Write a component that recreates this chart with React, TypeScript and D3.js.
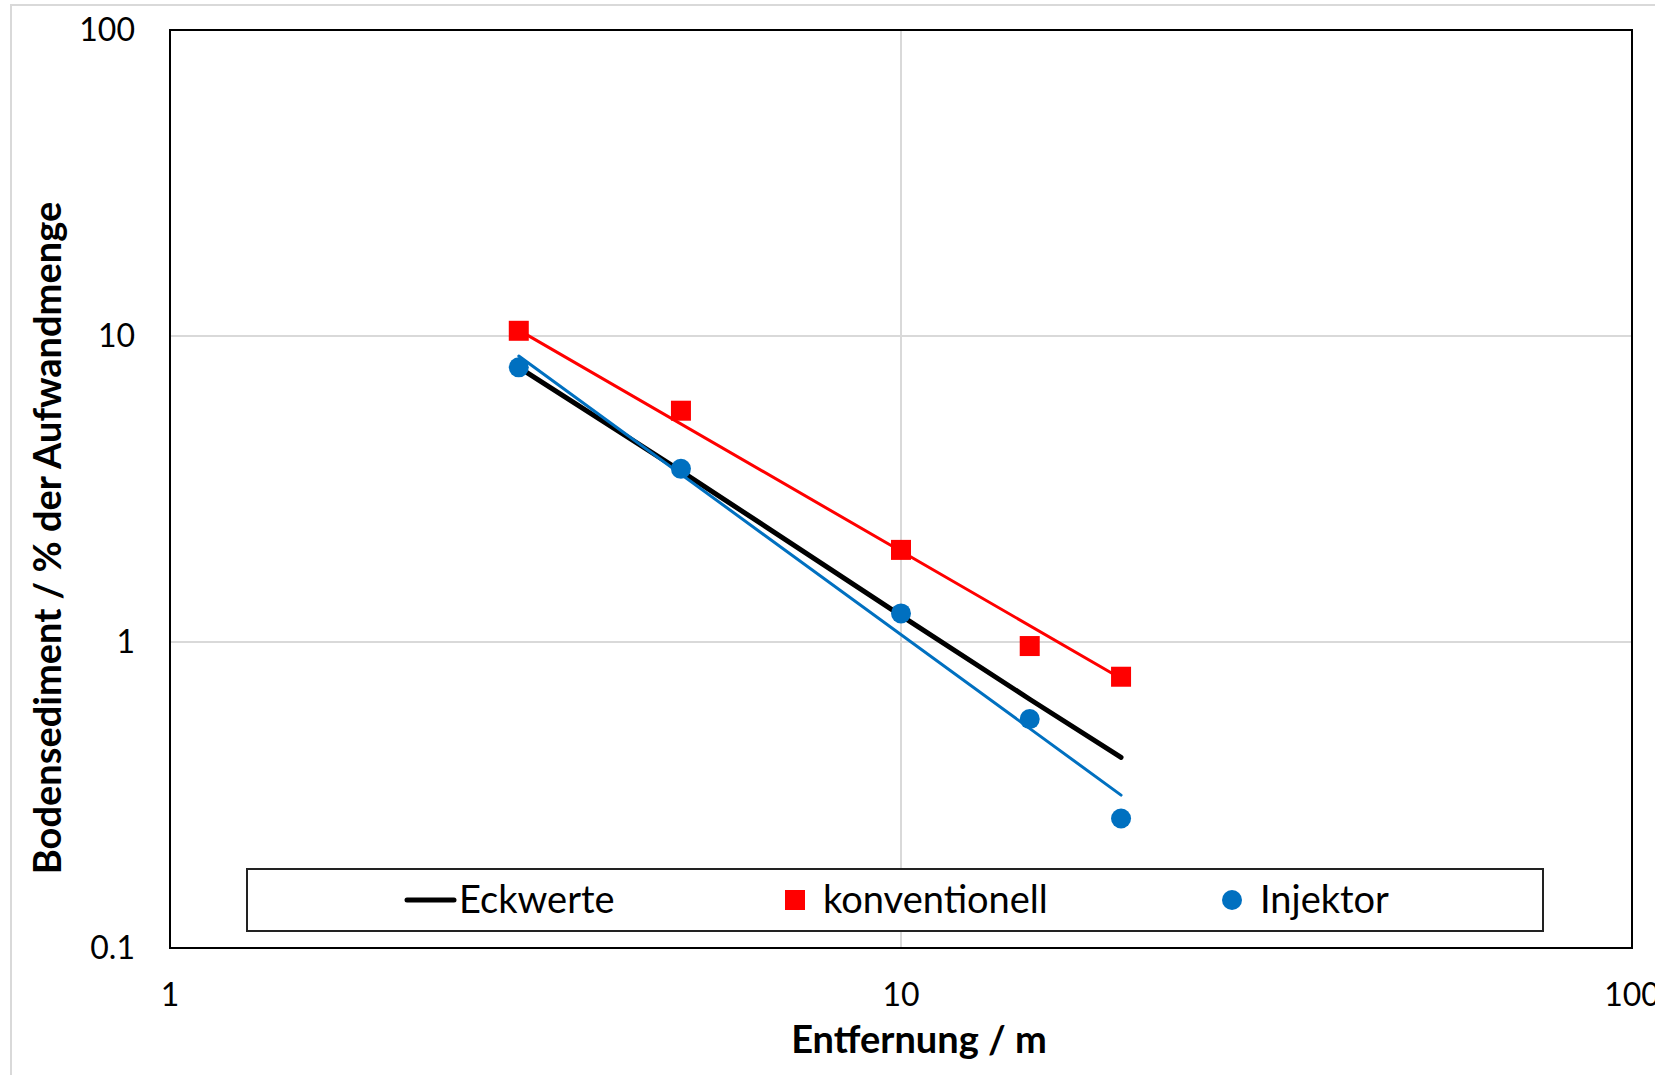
import React, { useRef, useEffect } from 'react';
import * as d3 from 'd3';

// distances (m) and ground sediment (% of application rate)
const distances = [3, 5, 10, 15, 20];
const eckwerte = [7.9, 3.62, 1.22, 0.65, 0.42];
const konventionell = [10.4, 5.7, 2.0, 0.97, 0.77];
const injektor = [7.9, 3.68, 1.24, 0.56, 0.265];

// power trend lines, end points
const trendX = [3, 20];
const konventionellTrend = [10.45, 0.76];
const injektorTrend = [8.6, 0.316];

const xTicks = [1, 10, 100];
const yTicks = [0.1, 1, 10, 100];

const legendItems = [
    { name: 'Eckwerte', kind: 'line', color: '#000000' },
    { name: 'konventionell', kind: 'square', color: '#ff0000' },
    { name: 'Injektor', kind: 'circle', color: '#0070c0' },
];

const FONT = 'Lato, "Open Sans", sans-serif';

const App = () => {

    const svgRef = useRef<SVGSVGElement | null>(null);

    useEffect(() => {

        const svgWidth = 1655;
        const svgHeight = 1075;

        const margin = { top: 30, right: 23, bottom: 127, left: 170 };
        const width = svgWidth - margin.left - margin.right;
        const height = svgHeight - margin.top - margin.bottom;

        const svg = d3.select(svgRef.current)
            .attr('width', svgWidth)
            .attr('height', svgHeight);
        svg.selectAll('*').remove();

        // outer chart frame
        svg.append('rect')
            .attr('x', 11).attr('y', 5)
            .attr('width', svgWidth + 20).attr('height', svgHeight + 20)
            .attr('fill', '#fff')
            .attr('stroke', '#d9d9d9')
            .attr('stroke-width', 2);

        const g = svg.append('g').attr('transform', `translate(${margin.left},${margin.top})`);

        const xScale = d3.scaleLog().domain([1, 100]).range([0, width]);
        const yScale = d3.scaleLog().domain([0.1, 100]).range([height, 0]);

        // grid
        g.selectAll('.hgrid')
            .data(yTicks.filter((d) => d > 0.1 && d < 100))
            .enter()
            .append('line')
            .attr('x1', 0).attr('x2', width)
            .attr('y1', (d) => yScale(d)).attr('y2', (d) => yScale(d))
            .attr('stroke', '#d9d9d9')
            .attr('stroke-width', 2);

        g.selectAll('.vgrid')
            .data(xTicks.filter((d) => d > 1 && d < 100))
            .enter()
            .append('line')
            .attr('y1', 0).attr('y2', height)
            .attr('x1', (d) => xScale(d)).attr('x2', (d) => xScale(d))
            .attr('stroke', '#d9d9d9')
            .attr('stroke-width', 2);

        // plot frame
        g.append('rect')
            .attr('width', width).attr('height', height)
            .attr('fill', 'none')
            .attr('stroke', '#000')
            .attr('stroke-width', 2);

        // tick labels
        g.selectAll('.ylab')
            .data(yTicks)
            .enter()
            .append('text')
            .attr('x', -35)
            .attr('y', (d) => yScale(d))
            .attr('dy', '0.35em')
            .attr('text-anchor', 'end')
            .attr('font-family', FONT)
            .attr('font-size', 32)
            .attr('fill', '#000')
            .text((d) => String(d));

        g.selectAll('.xlab')
            .data(xTicks)
            .enter()
            .append('text')
            .attr('x', (d) => xScale(d))
            .attr('y', height + 47)
            .attr('dy', '0.35em')
            .attr('text-anchor', 'middle')
            .attr('font-family', FONT)
            .attr('font-size', 32)
            .attr('fill', '#000')
            .text((d) => String(d));

        // axis titles
        svg.append('text')
            .attr('x', 919)
            .attr('y', 1040)
            .attr('dy', '0.35em')
            .attr('text-anchor', 'middle')
            .attr('font-family', FONT)
            .attr('font-weight', 'bold')
            .attr('font-size', 38)
            .text('Entfernung / m');

        svg.append('text')
            .attr('transform', 'translate(48,538) rotate(-90)')
            .attr('dy', '0.35em')
            .attr('text-anchor', 'middle')
            .attr('font-family', FONT)
            .attr('font-weight', 'bold')
            .attr('font-size', 38)
            .text('Bodensediment / % der Aufwandmenge');

        const line = d3.line<[number, number]>()
            .x((d) => xScale(d[0]))
            .y((d) => yScale(d[1]));

        // Eckwerte
        g.append('path')
            .datum(distances.map((d, i) => [d, eckwerte[i]] as [number, number]))
            .attr('fill', 'none')
            .attr('stroke', '#000')
            .attr('stroke-width', 5)
            .attr('stroke-linecap', 'round')
            .attr('stroke-linejoin', 'round')
            .attr('d', line);

        // trend lines
        g.append('path')
            .datum(trendX.map((d, i) => [d, konventionellTrend[i]] as [number, number]))
            .attr('fill', 'none')
            .attr('stroke', '#ff0000')
            .attr('stroke-width', 3)
            .attr('stroke-linecap', 'round')
            .attr('d', line);

        g.append('path')
            .datum(trendX.map((d, i) => [d, injektorTrend[i]] as [number, number]))
            .attr('fill', 'none')
            .attr('stroke', '#0070c0')
            .attr('stroke-width', 3)
            .attr('stroke-linecap', 'round')
            .attr('d', line);

        // markers
        g.selectAll('.sq')
            .data(distances.map((d, i) => [d, konventionell[i]]))
            .enter()
            .append('rect')
            .attr('x', (d) => xScale(d[0]) - 10)
            .attr('y', (d) => yScale(d[1]) - 10)
            .attr('width', 20)
            .attr('height', 20)
            .attr('fill', '#ff0000');

        g.selectAll('.dot')
            .data(distances.map((d, i) => [d, injektor[i]]))
            .enter()
            .append('circle')
            .attr('cx', (d) => xScale(d[0]))
            .attr('cy', (d) => yScale(d[1]))
            .attr('r', 10)
            .attr('fill', '#0070c0');

        // legend
        const legend = svg.append('g').attr('transform', 'translate(247,869)');
        legend.append('rect')
            .attr('width', 1296).attr('height', 62)
            .attr('fill', '#fff')
            .attr('stroke', '#222')
            .attr('stroke-width', 2);

        const itemX = [158, 510, 947];
        legendItems.forEach((item, i) => {
            const lg = legend.append('g').attr('transform', `translate(${itemX[i]},31)`);
            if (item.kind === 'line') {
                lg.append('line')
                    .attr('x1', 2).attr('x2', 49)
                    .attr('stroke', item.color)
                    .attr('stroke-width', 5)
                    .attr('stroke-linecap', 'round');
            } else if (item.kind === 'square') {
                lg.append('rect')
                    .attr('x', 28).attr('y', -10)
                    .attr('width', 20).attr('height', 20)
                    .attr('fill', item.color);
            } else {
                lg.append('circle')
                    .attr('cx', 38).attr('r', 10)
                    .attr('fill', item.color);
            }
            lg.append('text')
                .attr('x', item.kind === 'line' ? 54 : 66)
                .attr('dy', '0.35em')
                .attr('font-family', FONT)
                .attr('font-size', 38)
                .attr('fill', '#000')
                .text(item.name);
        });

    }, []);

    return (
        <div>
            <svg ref={svgRef} style={{ position: 'absolute', left: 0, top: 0 }} />
        </div>
    );
};

export default App;
